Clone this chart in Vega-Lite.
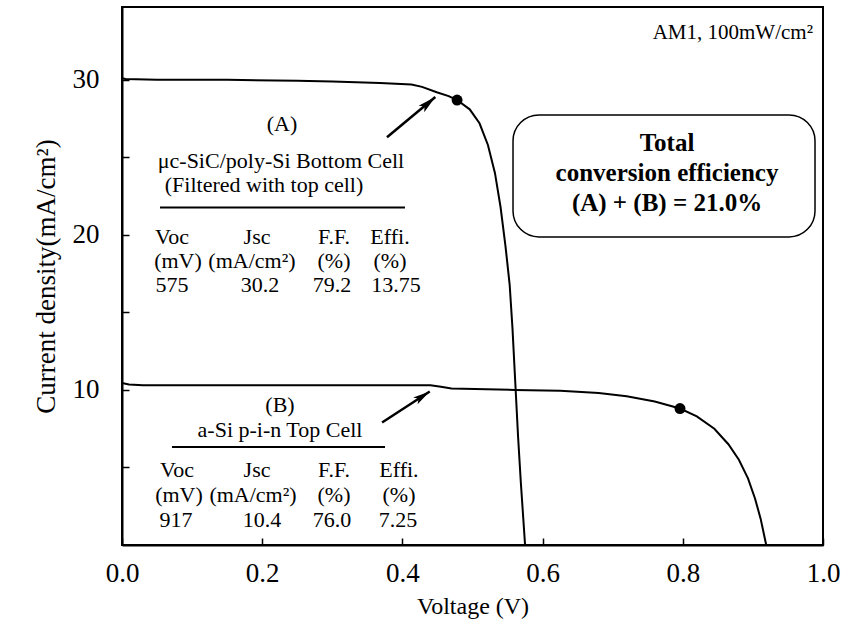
{
  "$schema": "https://vega.github.io/schema/vega-lite/v6.json",
  "width": 701,
  "height": 538,
  "autosize": "none",
  "padding": {"left": 122, "top": 7, "right": 30, "bottom": 95},
  "background": "white",
  "config": {
    "view": {"stroke": "black", "strokeWidth": 2},
    "font": "Liberation Serif",
    "text": {"font": "Liberation Serif", "color": "black"}
  },
  "datasets": {
    "curves": [
      {"series": "A", "x": 0, "y": 30.1},
      {"series": "A", "x": 0.005, "y": 30.05},
      {"series": "A", "x": 0.05, "y": 30.0},
      {"series": "A", "x": 0.15, "y": 30.0},
      {"series": "A", "x": 0.25, "y": 29.95},
      {"series": "A", "x": 0.3, "y": 29.9},
      {"series": "A", "x": 0.368, "y": 29.8},
      {"series": "A", "x": 0.413, "y": 29.7},
      {"series": "A", "x": 0.428, "y": 29.55},
      {"series": "A", "x": 0.449, "y": 29.2},
      {"series": "A", "x": 0.466, "y": 28.95},
      {"series": "A", "x": 0.478, "y": 28.7},
      {"series": "A", "x": 0.496, "y": 28.1},
      {"series": "A", "x": 0.51, "y": 27.2},
      {"series": "A", "x": 0.522, "y": 25.8},
      {"series": "A", "x": 0.532, "y": 24.0},
      {"series": "A", "x": 0.54, "y": 21.8},
      {"series": "A", "x": 0.547, "y": 19.3},
      {"series": "A", "x": 0.553, "y": 16.8},
      {"series": "A", "x": 0.557, "y": 14.0},
      {"series": "A", "x": 0.561, "y": 10.5},
      {"series": "A", "x": 0.565, "y": 7.0},
      {"series": "A", "x": 0.569, "y": 4.0},
      {"series": "A", "x": 0.575, "y": 0},
      {"series": "B", "x": 0, "y": 10.45},
      {"series": "B", "x": 0.01, "y": 10.35},
      {"series": "B", "x": 0.03, "y": 10.3},
      {"series": "B", "x": 0.15, "y": 10.3},
      {"series": "B", "x": 0.3, "y": 10.3},
      {"series": "B", "x": 0.44, "y": 10.3},
      {"series": "B", "x": 0.455, "y": 10.2},
      {"series": "B", "x": 0.47, "y": 10.1},
      {"series": "B", "x": 0.56, "y": 10.0},
      {"series": "B", "x": 0.625, "y": 9.95},
      {"series": "B", "x": 0.68, "y": 9.8},
      {"series": "B", "x": 0.72, "y": 9.6},
      {"series": "B", "x": 0.76, "y": 9.25},
      {"series": "B", "x": 0.796, "y": 8.8},
      {"series": "B", "x": 0.82, "y": 8.3},
      {"series": "B", "x": 0.845, "y": 7.5},
      {"series": "B", "x": 0.865, "y": 6.5},
      {"series": "B", "x": 0.88, "y": 5.5},
      {"series": "B", "x": 0.893, "y": 4.3},
      {"series": "B", "x": 0.903, "y": 3.0},
      {"series": "B", "x": 0.911, "y": 1.7},
      {"series": "B", "x": 0.919, "y": 0}
    ],
    "mpp": [
      {"series": "A", "x": 0.478, "y": 28.7},
      {"series": "B", "x": 0.796, "y": 8.8}
    ],
    "tableText": [
      {"text": "(A)", "x": 0.2282, "y": 27.16},
      {"text": "μc-SiC/poly-Si Bottom Cell", "x": 0.2268, "y": 24.77},
      {"text": "(Filtered with top cell)", "x": 0.2026, "y": 23.23},
      {"text": "Voc", "x": 0.0713, "y": 19.87},
      {"text": "Jsc", "x": 0.1926, "y": 19.87},
      {"text": "F.F.", "x": 0.3024, "y": 19.87},
      {"text": "Effi.", "x": 0.3823, "y": 19.87},
      {"text": "(mV)", "x": 0.0799, "y": 18.32},
      {"text": "(mA/cm²)", "x": 0.1854, "y": 18.32},
      {"text": "(%)", "x": 0.3024, "y": 18.32},
      {"text": "(%)", "x": 0.3823, "y": 18.32},
      {"text": "575", "x": 0.0713, "y": 16.77},
      {"text": "30.2", "x": 0.1969, "y": 16.77},
      {"text": "79.2", "x": 0.2996, "y": 16.77},
      {"text": "13.75", "x": 0.3909, "y": 16.77},
      {"text": "(B)", "x": 0.2254, "y": 9.03},
      {"text": "a-Si p-i-n Top Cell", "x": 0.2254, "y": 7.42},
      {"text": "Voc", "x": 0.0785, "y": 4.84},
      {"text": "Jsc", "x": 0.1926, "y": 4.84},
      {"text": "F.F.", "x": 0.3024, "y": 4.84},
      {"text": "Effi.", "x": 0.3951, "y": 4.84},
      {"text": "(mV)", "x": 0.0813, "y": 3.23},
      {"text": "(mA/cm²)", "x": 0.1869, "y": 3.23},
      {"text": "(%)", "x": 0.3024, "y": 3.23},
      {"text": "(%)", "x": 0.3951, "y": 3.23},
      {"text": "917", "x": 0.077, "y": 1.61},
      {"text": "10.4", "x": 0.1997, "y": 1.61},
      {"text": "76.0", "x": 0.2996, "y": 1.61},
      {"text": "7.25", "x": 0.3937, "y": 1.61}
    ],
    "underlines": [
      {"x": 0.0542, "x2": 0.4037, "y": 21.77},
      {"x": 0.0713, "x2": 0.3752, "y": 6.32}
    ],
    "box": [
      {"x": 0.5578, "x2": 0.9886, "y": 27.74, "y2": 19.87}
    ],
    "boxText": [
      {"text": "Total", "x": 0.7775, "y": 25.94},
      {"text": "conversion efficiency", "x": 0.7775, "y": 24.0},
      {"text": "(A) + (B) = 21.0%", "x": 0.7775, "y": 22.06}
    ],
    "note": [
      {"text": "AM1,  100mW/cm²", "x": 0.9857, "y": 33.03}
    ],
    "arrows": [
      {"cell": "A", "x": 0.378, "y": 26.3, "x2": 0.447, "y2": 28.9},
      {"cell": "B", "x": 0.371, "y": 7.9, "x2": 0.439, "y2": 9.9}
    ]
  },
  "encoding": {
    "x": {
      "field": "x",
      "type": "quantitative",
      "scale": {"domain": [0, 1], "nice": false, "zero": false},
      "axis": {
        "values": [0, 0.2, 0.4, 0.6, 0.8, 1.0],
        "format": ".1f",
        "title": "Voltage (V)",
        "grid": false,
        "tickSize": -7,
        "tickColor": "black",
        "tickWidth": 1.5,
        "domainColor": "black",
        "domainWidth": 2,
        "labelFont": "Liberation Serif",
        "labelFontSize": 27,
        "labelColor": "black",
        "labelPadding": 22,
        "labelFlush": false,
        "titleFont": "Liberation Serif",
        "titleFontSize": 24,
        "titleFontWeight": "normal",
        "titleColor": "black",
        "titlePadding": 8
      }
    },
    "y": {
      "field": "y",
      "type": "quantitative",
      "scale": {"domain": [0, 34.7], "nice": false, "zero": false},
      "axis": {
        "values": [5, 10, 15, 20, 25, 30],
        "labelExpr": "datum.value % 10 == 0 ? datum.label : ''",
        "title": "Current density(mA/cm²)",
        "grid": false,
        "tickSize": -7,
        "tickColor": "black",
        "tickWidth": 1.5,
        "domainColor": "black",
        "domainWidth": 2,
        "labelFont": "Liberation Serif",
        "labelFontSize": 27,
        "labelColor": "black",
        "labelPadding": 30,
        "titleFont": "Liberation Serif",
        "titleFontSize": 27,
        "titleFontWeight": "normal",
        "titleColor": "black",
        "titlePadding": 12
      }
    }
  },
  "layer": [
    {
      "data": {"name": "box"},
      "mark": {"type": "rect", "fill": "white", "stroke": "black", "strokeWidth": 1.5, "cornerRadius": 26},
      "encoding": {
        "x2": {"field": "x2"},
        "y2": {"field": "y2"}
      }
    },
    {
      "data": {"name": "curves"},
      "mark": {"type": "line", "color": "black", "strokeWidth": 2},
      "encoding": {"detail": {"field": "series"}}
    },
    {
      "data": {"name": "mpp"},
      "mark": {"type": "point", "filled": true, "color": "black", "size": 120, "opacity": 1}
    },
    {
      "data": {"name": "arrows"},
      "mark": {"type": "rule", "color": "black", "strokeWidth": 2.5},
      "encoding": {
        "x2": {"field": "x2"},
        "y2": {"field": "y2"}
      }
    },
    {
      "data": {"name": "arrows"},
      "transform": [{"filter": "datum.cell == 'A'"}],
      "mark": {"type": "point", "filled": true, "color": "black", "opacity": 1, "size": 420, "angle": 49, "shape": "M0,0L0.42,1.8L0,1.4L-0.42,1.8Z"},
      "encoding": {
        "x": {"field": "x2", "type": "quantitative"},
        "y": {"field": "y2", "type": "quantitative"}
      }
    },
    {
      "data": {"name": "arrows"},
      "transform": [{"filter": "datum.cell == 'B'"}],
      "mark": {"type": "point", "filled": true, "color": "black", "opacity": 1, "size": 360, "angle": 57, "shape": "M0,0L0.42,1.8L0,1.4L-0.42,1.8Z"},
      "encoding": {
        "x": {"field": "x2", "type": "quantitative"},
        "y": {"field": "y2", "type": "quantitative"}
      }
    },
    {
      "data": {"name": "underlines"},
      "mark": {"type": "rule", "color": "black", "strokeWidth": 2},
      "encoding": {"x2": {"field": "x2"}}
    },
    {
      "data": {"name": "tableText"},
      "mark": {"type": "text", "fontSize": 22, "align": "center", "baseline": "middle", "font": "Liberation Serif"},
      "encoding": {"text": {"field": "text"}}
    },
    {
      "data": {"name": "boxText"},
      "mark": {"type": "text", "fontSize": 25, "fontWeight": "bold", "align": "center", "baseline": "middle", "font": "Liberation Serif"},
      "encoding": {"text": {"field": "text"}}
    },
    {
      "data": {"name": "note"},
      "mark": {"type": "text", "fontSize": 21, "align": "right", "baseline": "middle", "font": "Liberation Serif"},
      "encoding": {"text": {"field": "text"}}
    }
  ]
}
